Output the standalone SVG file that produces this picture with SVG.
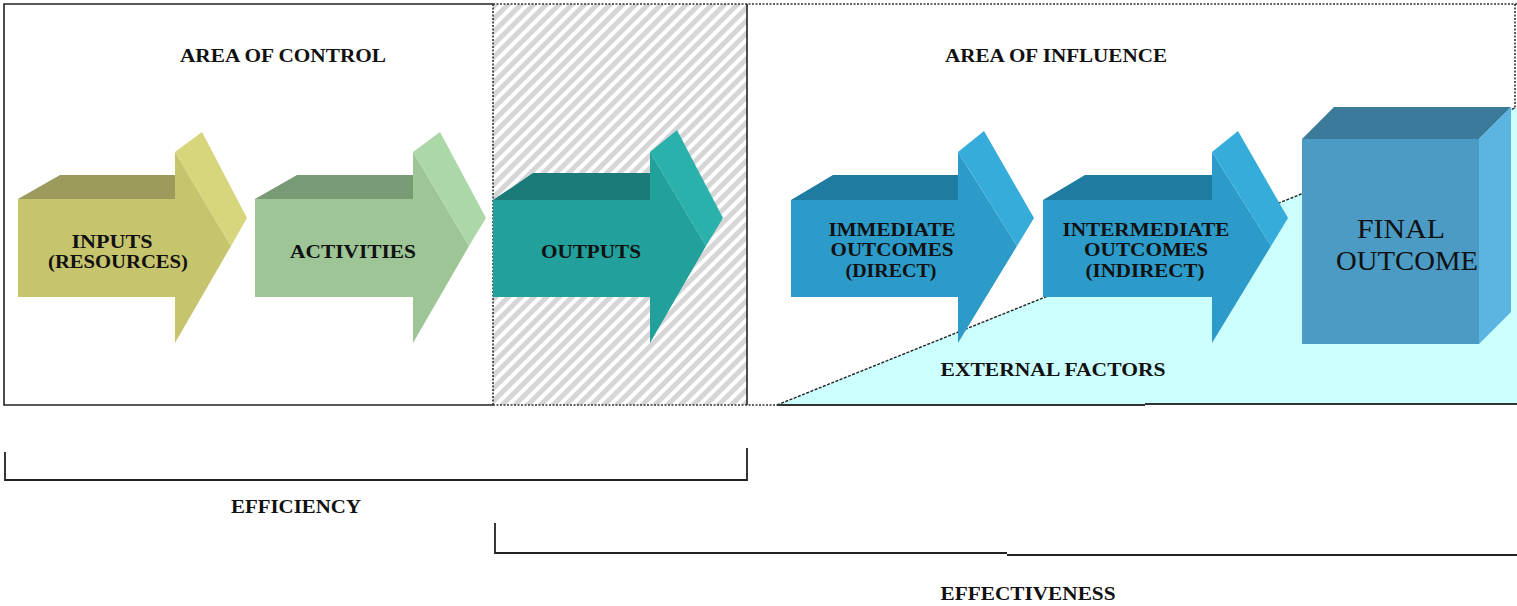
<svg xmlns="http://www.w3.org/2000/svg" width="1517" height="606" viewBox="0 0 1517 606">
<style>
.t{font-family:"Liberation Serif","Times New Roman",serif;font-weight:bold;font-size:18px;fill:#111;text-anchor:middle}
.big{font-family:"Liberation Serif","Times New Roman",serif;font-weight:normal;font-size:27px;fill:#111;text-anchor:middle}
.solid{fill:none;stroke:#222;stroke-width:1.6}
.dot{fill:none;stroke:#333;stroke-width:1.6;stroke-dasharray:2 1.5}
.brk{fill:none;stroke:#222;stroke-width:1.8}
</style>
<defs>
<pattern id="hatch" patternUnits="userSpaceOnUse" width="9" height="9" patternTransform="rotate(45)">
<rect width="9" height="9" fill="#ffffff"/>
<rect width="5" height="9" fill="#d6d6d6"/>
</pattern>
</defs>
<rect width="1517" height="606" fill="#ffffff"/>
<g id="frames">
<rect x="493" y="4" width="254" height="401" fill="url(#hatch)"/>
<polygon points="777,405 1515,108 1517,108 1517,405" fill="#ccffff"/>
<polyline class="solid" points="493,4 4,4 4,405 493,405"/>
<line class="solid" x1="747" y1="4" x2="747" y2="405"/>
<line class="dot" x1="493" y1="4" x2="493" y2="405"/>
<line class="dot" x1="493" y1="4" x2="1517" y2="4"/>
<line class="dot" x1="493" y1="405" x2="777" y2="405"/>
<line class="dot" x1="1515" y1="4" x2="1515" y2="108"/>
<line x1="777" y1="405" x2="1515" y2="108" stroke="#222" stroke-width="1.4" stroke-dasharray="3 1.5"/>
<line x1="777" y1="405" x2="1145" y2="405" stroke="#333" stroke-width="2"/>
<line x1="1145" y1="404" x2="1517" y2="404" stroke="#333" stroke-width="2"/>
</g>
<g id="area-control"><text class="t" x="283" y="62" textLength="206" lengthAdjust="spacingAndGlyphs">AREA OF CONTROL</text></g>
<g id="area-influence"><text class="t" x="1056" y="62" textLength="222" lengthAdjust="spacingAndGlyphs">AREA OF INFLUENCE</text></g>
<g id="inputs">
<polygon points="18,199 60,175 175,175 175,199" fill="#9c9a5c"/>
<polygon points="18,199 175,199 175,152 231,246 175,343 175,297 18,297" fill="#c7c46e"/>
<polygon points="175,152 202,132 247,218 231,246" fill="#d8d67c"/>
<text class="t" x="112" y="248" textLength="81" lengthAdjust="spacingAndGlyphs">INPUTS</text>
<text class="t" x="118" y="268" textLength="140" lengthAdjust="spacingAndGlyphs">(RESOURCES)</text>
</g>
<g id="activities">
<polygon points="255,199 297,175 413,175 413,199" fill="#789a74"/>
<polygon points="255,199 413,199 413,152 469,246 413,343 413,297 255,297" fill="#9dc596"/>
<polygon points="413,152 440,132 486,218 469,246" fill="#acd8a8"/>
<text class="t" x="353" y="258" textLength="126" lengthAdjust="spacingAndGlyphs">ACTIVITIES</text>
</g>
<g id="outputs">
<polygon points="493,200 533,173 650,173 650,200" fill="#1b7b78"/>
<polygon points="493,200 650,200 650,152 706,246 650,343 650,297 493,297" fill="#21a09c"/>
<polygon points="650,152 677,130 723,218 706,246" fill="#2bb1ac"/>
<text class="t" x="591" y="258" textLength="100" lengthAdjust="spacingAndGlyphs">OUTPUTS</text>
</g>
<g id="immediate">
<polygon points="791,200 833,175 958,175 958,200" fill="#1e7ba2"/>
<polygon points="791,200 958,200 958,152 1017,246 958,343 958,297 791,297" fill="#2c9bc9"/>
<polygon points="958,152 984,131 1034,218 1017,246" fill="#35acda"/>
<text class="t" x="892" y="236" textLength="127" lengthAdjust="spacingAndGlyphs">IMMEDIATE</text>
<text class="t" x="892" y="256" textLength="123" lengthAdjust="spacingAndGlyphs">OUTCOMES</text>
<text class="t" x="891" y="277" textLength="91" lengthAdjust="spacingAndGlyphs">(DIRECT)</text>
</g>
<g id="intermediate">
<polygon points="1043,200 1085,175 1212,175 1212,200" fill="#1e7ba2"/>
<polygon points="1043,200 1212,200 1212,152 1271,246 1212,343 1212,297 1043,297" fill="#2c9bc9"/>
<polygon points="1212,152 1238,131 1288,218 1271,246" fill="#35acda"/>
<text class="t" x="1146" y="236" textLength="167" lengthAdjust="spacingAndGlyphs">INTERMEDIATE</text>
<text class="t" x="1146" y="256" textLength="124" lengthAdjust="spacingAndGlyphs">OUTCOMES</text>
<text class="t" x="1145" y="277" textLength="119" lengthAdjust="spacingAndGlyphs">(INDIRECT)</text>
</g>
<g id="final-outcome">
<polygon points="1302,139 1334,107 1511,107 1479,139" fill="#3c7a9b"/>
<rect x="1302" y="139" width="177" height="205" fill="#4b9bc5"/>
<polygon points="1479,139 1511,107 1511,312 1479,344" fill="#5bb5e0"/>
<text class="big" x="1401" y="238" textLength="88" lengthAdjust="spacingAndGlyphs">FINAL</text>
<text class="big" x="1407" y="270" textLength="142" lengthAdjust="spacingAndGlyphs">OUTCOME</text>
</g>
<g id="external-factors"><text class="t" x="1053" y="376" textLength="225" lengthAdjust="spacingAndGlyphs">EXTERNAL FACTORS</text></g>
<g id="connectors">
<polyline class="brk" points="5,452 5,480 747,480 747,448"/>
<polyline class="brk" points="495,523 495,553 1007,553"/>
<polyline class="brk" points="1007,555 1517,555"/>
</g>
<g id="efficiency"><text class="t" x="296" y="513" textLength="130" lengthAdjust="spacingAndGlyphs">EFFICIENCY</text></g>
<g id="effectiveness"><text class="t" x="1028" y="600" textLength="175" lengthAdjust="spacingAndGlyphs">EFFECTIVENESS</text></g>
</svg>
